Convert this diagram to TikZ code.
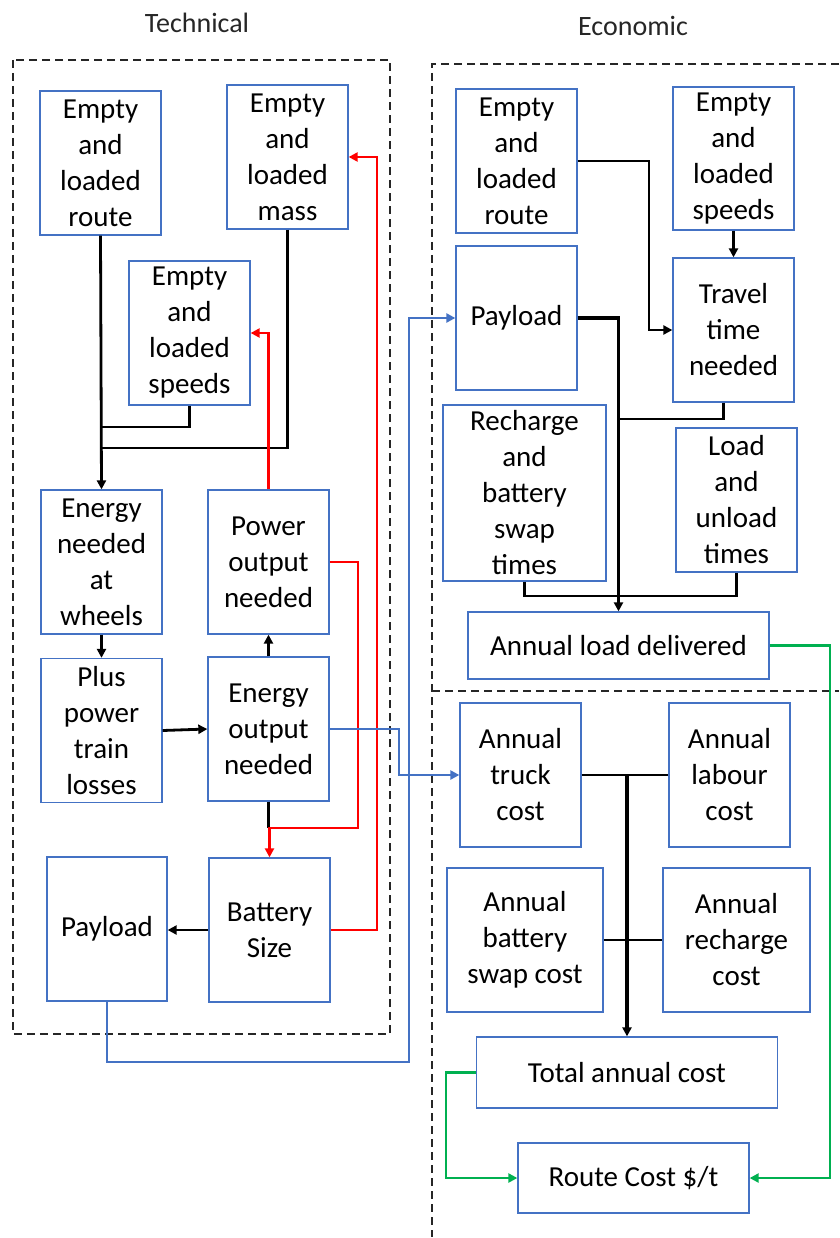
\documentclass[tikz,border=0pt]{standalone}
\usepackage{fontspec}
\setmainfont{Carlito}
\usetikzlibrary{arrows.meta,calc}
\definecolor{boxblue}{RGB}{68,114,196}
\definecolor{lnblue}{RGB}{68,114,196}
\definecolor{lnred}{RGB}{255,0,0}
\definecolor{lngreen}{RGB}{0,176,80}
\tikzset{
  box/.style={draw=boxblue,line width=1.3pt,fill=white,inner sep=0pt,align=center,
    font=\fontsize{29}{36}\selectfont},
  ttl/.style={inner sep=0pt,font=\fontsize{28}{34}\selectfont,text=black!85},
  frame/.style={draw=black!85,line width=1.3pt,dash pattern=on 8pt off 5pt},
  blk/.style={draw=black,line width=2.8pt},
  thk/.style={draw=black,line width=3.6pt},
  redl/.style={draw=lnred,line width=2.6pt},
  bluel/.style={draw=lnblue,line width=2.6pt},
  greenl/.style={draw=lngreen,line width=2.6pt},
  tip/.style={-{Triangle[length=9pt,width=9pt]}}
}
\begin{document}
\begin{tikzpicture}[x=1pt,y=-1pt]
\useasboundingbox (0,0) rectangle (839,1238);
% titles
\node[ttl] (ttech) at (197,23) {Technical};
\node[ttl] (tecon) at (633,26) {Economic};
% frames
\draw[frame] (13,60) rectangle (390,1034);
\draw[frame] (839,64) -- (432,64) -- (432,1237);
\draw[frame] (432,691) -- (839,691);

% Technical boxes
\node[box,minimum width=121,minimum height=144] (troute) at (100.5,163) {Empty\\and\\loaded\\route};
\node[box,minimum width=121,minimum height=144] (tmass) at (287.5,157) {Empty\\and\\loaded\\mass};
\node[box,minimum width=121,minimum height=144] (tspeeds) at (189.5,333) {Empty\\and\\loaded\\speeds};
\node[box,minimum width=121,minimum height=144] (twheels) at (101.5,562) {Energy\\needed\\at\\wheels};
\node[box,minimum width=121,minimum height=144] (tpower) at (268.5,562) {Power\\output\\needed};
\node[box,minimum width=121,minimum height=144] (tloss) at (101.5,730.5) {Plus\\power\\train\\losses};
\node[box,minimum width=121,minimum height=144] (teout) at (268.5,729) {Energy\\output\\needed};
\node[box,minimum width=120,minimum height=144] (tpay) at (107,929) {Payload};
\node[box,minimum width=121,minimum height=144] (tbatt) at (269.5,930) {Battery\\Size};

% Economic boxes
\node[box,minimum width=121,minimum height=144] (eroute) at (516.5,161) {Empty\\and\\loaded\\route};
\node[box,minimum width=121,minimum height=143] (espeeds) at (733.5,158.5) {Empty\\and\\loaded\\speeds};
\node[box,minimum width=121,minimum height=144] (epay) at (516.5,318) {Payload};
\node[box,minimum width=121,minimum height=144] (etravel) at (733.5,330) {Travel\\time\\needed};
\node[box,minimum width=163,minimum height=176] (erech) at (524.5,493) {Recharge\\and\\battery\\swap\\times};
\node[box,minimum width=121,minimum height=144] (eload) at (736.5,500) {Load\\and\\unload\\times};
\node[box,minimum width=301,minimum height=67] (eaload) at (618.5,645.5) {Annual load delivered};
\node[box,minimum width=121,minimum height=144] (etruck) at (520.5,775) {Annual\\truck\\cost};
\node[box,minimum width=121,minimum height=144] (elabour) at (729.5,775) {Annual\\labour\\cost};
\node[box,minimum width=156,minimum height=144] (eswap) at (525,940) {Annual\\battery\\swap cost};
\node[box,minimum width=147,minimum height=144] (erecost) at (736.5,940) {Annual\\recharge\\cost};
\node[box,minimum width=301,minimum height=71] (etotal) at (627,1072.5) {Total annual cost};
\node[box,minimum width=231,minimum height=70] (ercost) at (633.5,1178) {Route Cost \$/t};

% Technical connectors (black)
\draw[blk,tip] (troute.south) -- (twheels.north);
\draw[blk] (tspeeds.south) -- (tspeeds.south |- 0,427) -- (troute.south |- 0,427);
\draw[blk] (tmass.south) -- (tmass.south |- 0,448) -- (troute.south |- 0,448);
\draw[blk,tip] (twheels.south) -- (tloss.north);
\draw[blk,tip] (tloss.east) -- (teout.west);
\draw[blk,tip] (teout.north) -- (tpower.north |- tpower.south);
\draw[blk] (teout.south) -- (teout.south |- 0,828);
\draw[blk,tip] (tbatt.west) -- (tpay.east |- tbatt.west);
% red
\draw[redl,tip] (tpower.east) -- (358,562) -- (358,828) -- (tbatt.north |- 0,828) -- (tbatt.north);
\draw[redl,tip] (tpower.north) |- (tspeeds.east);
\draw[redl,tip] (tbatt.east) -| (377,157) -- (tmass.east);
% blue
\draw[bluel,tip] (tpay.south) -- (107,1062) -- (409,1062) |- (epay.west);
\draw[bluel,tip] (teout.east) -- (399,729) |- (etruck.west);

% Economic connectors
\draw[blk,tip] (eroute.east) -- (649,161) |- (etravel.west);
\draw[blk,tip] (espeeds.south) -- (etravel.north);
\draw[thk,tip] (epay.east) -| (eaload.north);
\draw[blk] ($(etravel.south)+(-10,0)$) |- (618.5,419);
\draw[blk] (erech.south) |- (eload.south |- 0,596) -- (eload.south);
\draw[blk] (etruck.east) -- (elabour.west);
\draw[blk] (eswap.east) -- (erecost.west);
\draw[thk,tip] (etotal.north |- etruck.east) -- (etotal.north);
% green
\draw[greenl,tip] (etotal.west) -- (446,1072.5) |- (ercost.west);
\draw[greenl,tip] (eaload.east) -- (830,645.5) |- (ercost.east);
\end{tikzpicture}
\end{document}
